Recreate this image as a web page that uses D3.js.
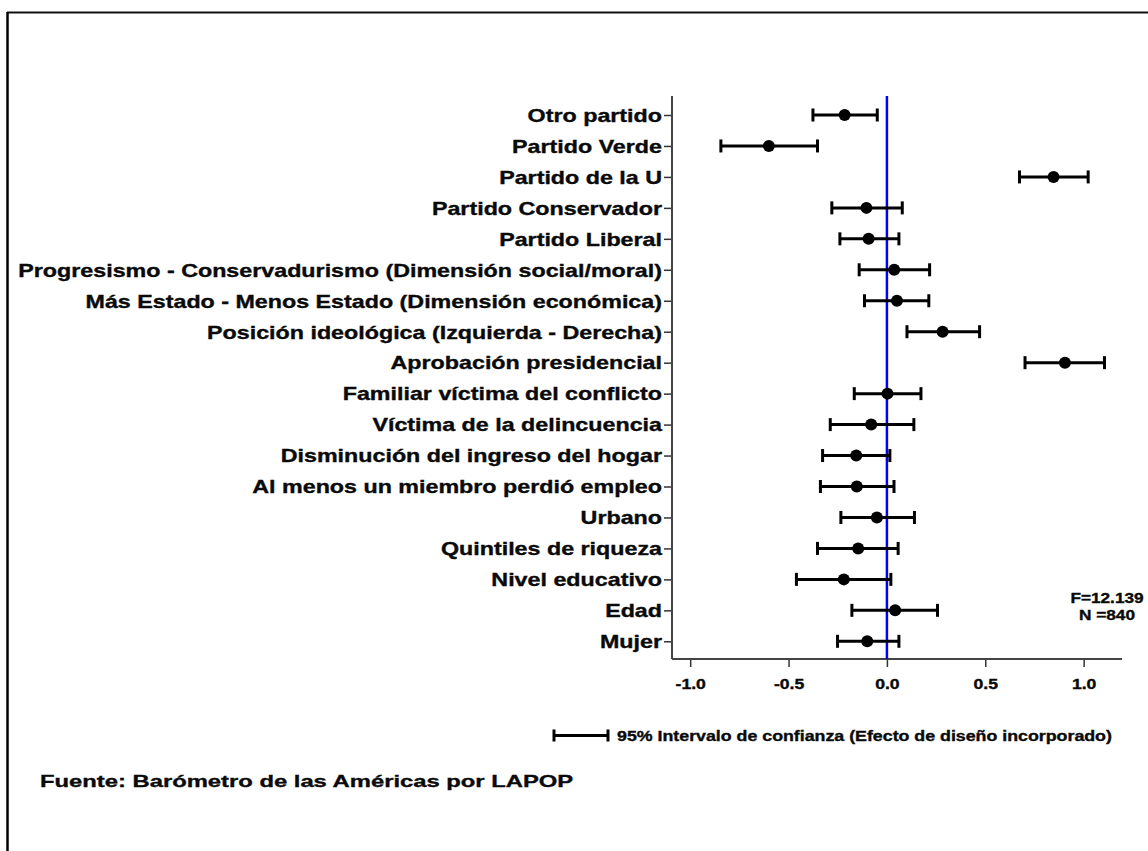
<!DOCTYPE html>
<html>
<head>
<meta charset="utf-8">
<script src="https://cdn.jsdelivr.net/npm/d3@7"></script>
<style>
  html, body { margin: 0; padding: 0; background: #fff; }
  svg text { font-family: "Liberation Sans", Arial, sans-serif; font-weight: bold; fill: #0a0a0a; stroke: #0a0a0a; stroke-width: 0.35px; }
</style>
</head>
<body>
<svg id="chart" width="1148" height="851"></svg>
<script>
const categories = [
  "Otro partido",
  "Partido Verde",
  "Partido de la U",
  "Partido Conservador",
  "Partido Liberal",
  "Progresismo - Conservadurismo (Dimensión social/moral)",
  "Más Estado - Menos Estado (Dimensión económica)",
  "Posición ideológica (Izquierda - Derecha)",
  "Aprobación presidencial",
  "Familiar víctima del conflicto",
  "Víctima de la delincuencia",
  "Disminución del ingreso del hogar",
  "Al menos un miembro perdió empleo",
  "Urbano",
  "Quintiles de riqueza",
  "Nivel educativo",
  "Edad",
  "Mujer"
];
const estimates = [-0.215, -0.600, 0.847, -0.104, -0.093, 0.037, 0.051, 0.283, 0.905, 0.003, -0.080, -0.156, -0.153, -0.051, -0.146, -0.219, 0.042, -0.100];
const lowerCI   = [-0.376, -0.844, 0.674, -0.280, -0.239, -0.141, -0.114, 0.102, 0.702, -0.166, -0.288, -0.327, -0.338, -0.234, -0.353, -0.460, -0.178, -0.251];
const upperCI   = [-0.049, -0.353, 1.023, 0.078, 0.061, 0.217, 0.213, 0.471, 1.106, 0.173, 0.137, 0.015, 0.036, 0.140, 0.057, 0.020, 0.257, 0.061];
const xTicks = [-1.0, -0.5, 0.0, 0.5, 1.0];
const statsLines = ["F=12.139", "N =840"];
const legendText = "95% Intervalo de confianza (Efecto de diseño incorporado)";
const sourceText = "Fuente: Barómetro de las Américas por LAPOP";

const svg = d3.select("#chart");

// horizontally stretch text (reference uses a wide bold sans)
function stretch(sel, f) {
  sel.each(function () {
    const t = d3.select(this);
    const x0 = +t.attr("x") || 0, y0 = +t.attr("y") || 0;
    t.attr("x", 0).attr("y", 0)
      .attr("transform", `translate(${x0},${y0}) scale(${f},1)`);
  });
}

// frame (top and left borders)
svg.append("line").attr("x1", 7).attr("x2", 1148).attr("y1", 12.5).attr("y2", 12.5)
  .attr("stroke", "#111").attr("stroke-width", 2);
svg.append("line").attr("x1", 7.5).attr("x2", 7.5).attr("y1", 12).attr("y2", 851)
  .attr("stroke", "#000").attr("stroke-width", 2.5);

const plotLeft = 672, plotRight = 1122, plotTop = 96, plotBottom = 659;

const x = d3.scaleLinear().domain([-1.0925, 1.195]).range([plotLeft, plotRight]);
const y = d3.scalePoint().domain(categories).range([115, 641.3]);

const data = categories.map((c, i) => ({ c, est: estimates[i], lo: lowerCI[i], hi: upperCI[i] }));

// y axis
const yAxis = d3.axisLeft(y).tickSize(8).tickPadding(2);
const gy = svg.append("g").attr("transform", `translate(${plotLeft},0)`).call(yAxis);
gy.select(".domain").remove();
gy.selectAll(".tick line").attr("stroke", "#333").attr("stroke-width", 1.5);
gy.selectAll(".tick text").attr("font-size", 17.5).attr("font-weight", "bold")
  .attr("font-family", "'Liberation Sans', Arial, sans-serif").attr("fill", "#0a0a0a").attr("dy", "0.36em");
stretch(gy.selectAll(".tick text"), 1.33);
svg.append("line").attr("x1", plotLeft).attr("x2", plotLeft).attr("y1", plotTop).attr("y2", plotBottom)
  .attr("stroke", "#444").attr("stroke-width", 2);

// x axis
const xAxis = d3.axisBottom(x).tickValues(xTicks).tickFormat(d3.format(".1f")).tickSize(8).tickPadding(12);
const gx = svg.append("g").attr("transform", `translate(0,${plotBottom})`).call(xAxis);
gx.select(".domain").remove();
gx.selectAll(".tick line").attr("stroke", "#333").attr("stroke-width", 1.5);
gx.selectAll(".tick text").attr("font-size", 14).attr("font-weight", "bold")
  .attr("font-family", "'Liberation Sans', Arial, sans-serif").attr("fill", "#0a0a0a")
  .text(d => d3.format(".1f")(d).replace("−", "-"));
stretch(gx.selectAll(".tick text"), 1.26);
svg.append("line").attr("x1", plotLeft).attr("x2", plotRight).attr("y1", plotBottom).attr("y2", plotBottom)
  .attr("stroke", "#444").attr("stroke-width", 2);

// zero reference line
svg.append("line").attr("x1", x(0)).attr("x2", x(0)).attr("y1", plotTop).attr("y2", plotBottom)
  .attr("stroke", "#0000ff").attr("stroke-width", 2.5);

// error bars
const g = svg.append("g");
const capH = 6.5;
g.selectAll(".ci").data(data).join("line").attr("class", "ci")
  .attr("x1", d => x(d.lo)).attr("x2", d => x(d.hi))
  .attr("y1", d => y(d.c)).attr("y2", d => y(d.c))
  .attr("stroke", "#000").attr("stroke-width", 3);
g.selectAll(".capL").data(data).join("line").attr("class", "capL")
  .attr("x1", d => x(d.lo)).attr("x2", d => x(d.lo))
  .attr("y1", d => y(d.c) - capH).attr("y2", d => y(d.c) + capH)
  .attr("stroke", "#000").attr("stroke-width", 3);
g.selectAll(".capR").data(data).join("line").attr("class", "capR")
  .attr("x1", d => x(d.hi)).attr("x2", d => x(d.hi))
  .attr("y1", d => y(d.c) - capH).attr("y2", d => y(d.c) + capH)
  .attr("stroke", "#000").attr("stroke-width", 3);
g.selectAll(".pt").data(data).join("circle").attr("class", "pt")
  .attr("cx", d => x(d.est)).attr("cy", d => y(d.c)).attr("r", 6)
  .attr("fill", "#000");

// stats
const st = svg.append("g");
st.append("text").attr("x", 1107).attr("y", 603).attr("text-anchor", "middle")
  .attr("font-size", 14).text(statsLines[0]);
st.append("text").attr("x", 1107).attr("y", 620).attr("text-anchor", "middle")
  .attr("font-size", 14).text(statsLines[1]);
stretch(st.selectAll("text"), 1.23);

// legend
const lg = svg.append("g");
lg.append("line").attr("x1", 554).attr("x2", 608).attr("y1", 735.5).attr("y2", 735.5)
  .attr("stroke", "#000").attr("stroke-width", 3);
lg.append("line").attr("x1", 554).attr("x2", 554).attr("y1", 729.5).attr("y2", 741.5)
  .attr("stroke", "#000").attr("stroke-width", 3);
lg.append("line").attr("x1", 608).attr("x2", 608).attr("y1", 729.5).attr("y2", 741.5)
  .attr("stroke", "#000").attr("stroke-width", 3);
lg.append("text").attr("x", 617).attr("y", 740.5).attr("font-size", 14).text(legendText);
stretch(lg.selectAll("text"), 1.27);

// source
const src = svg.append("text").attr("x", 40).attr("y", 787).attr("font-size", 17).text(sourceText);
stretch(src, 1.40);
</script>
</body>
</html>
